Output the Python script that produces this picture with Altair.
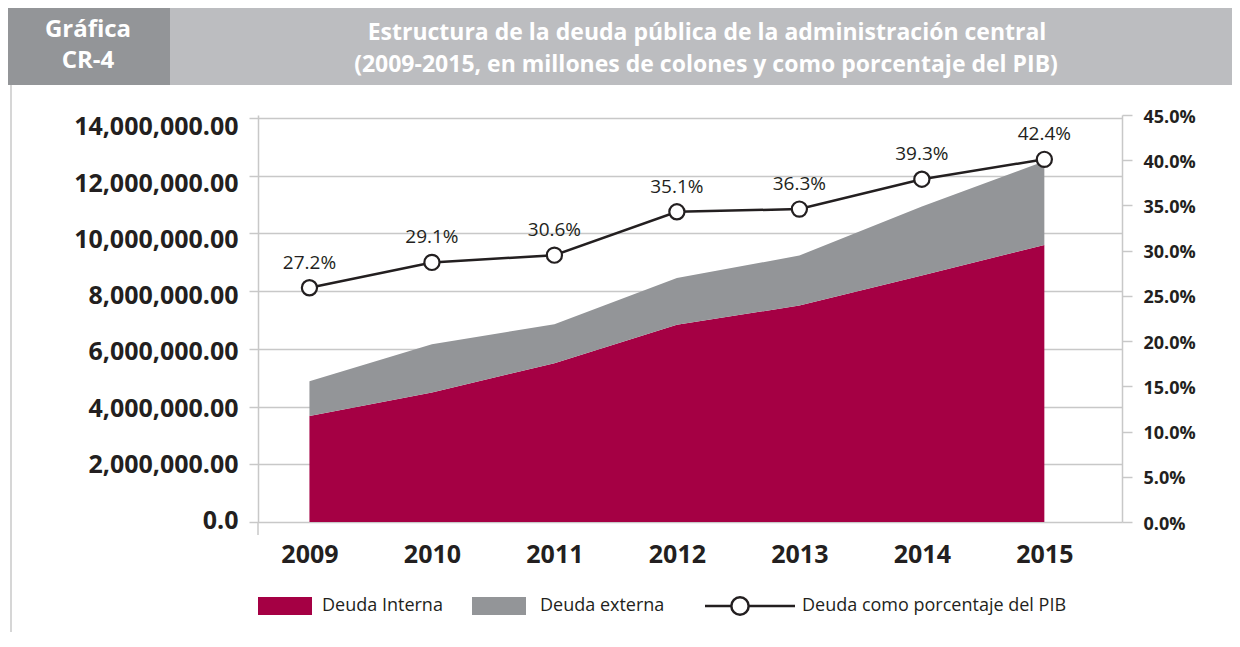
import altair as alt
import pandas as pd

years = [2009, 2010, 2011, 2012, 2013, 2014, 2015]
deuda_interna = [3670000, 4490000, 5500000, 6830000, 7500000, 8540000, 9600000]
deuda_externa = [1210000, 1670000, 1350000, 1620000, 1730000, 2390000, 2900000]
pct_pib = [0.259, 0.287, 0.295, 0.343, 0.346, 0.379, 0.401]
pct_labels = ["27.2%", "29.1%", "30.6%", "35.1%", "36.3%", "39.3%", "42.4%"]
series_names = ["Deuda Interna", "Deuda externa"]
series_colors = ["#A50044", "#939598"]
left_ticks = [0, 2000000, 4000000, 6000000, 8000000, 10000000, 12000000, 14000000]
right_ticks = [0, 0.05, 0.10, 0.15, 0.20, 0.25, 0.30, 0.35, 0.40, 0.45]
title_1 = "Estructura de la deuda pública de la administración central"
title_2 = "(2009-2015, en millones de colones y como porcentaje del PIB)"
badge_1 = "Gráfica"
badge_2 = "CR-4"
line_name = "Deuda como porcentaje del PIB"

FONT = "Open Sans"
GRID = "#C8C8C8"
INK = "#231F20"

area_rows = []
for i, y in enumerate(years):
    area_rows.append({"year": y, "serie": series_names[0], "valor": deuda_interna[i], "orden": 0})
    area_rows.append({"year": y, "serie": series_names[1], "valor": deuda_externa[i], "orden": 1})
area_df = pd.DataFrame(area_rows)
pct_df = pd.DataFrame({"year": years, "pct": pct_pib, "lab": pct_labels})

xenc = alt.X("year:Q",
             scale=alt.Scale(domain=[2008.58, 2015.634], nice=False, zero=False),
             axis=alt.Axis(values=years, format="d", title=None, domain=False, ticks=False,
                           grid=False, labelFont=FONT, labelFontSize=25, labelFontWeight="bold",
                           labelColor=INK, labelPadding=20))

area = alt.Chart(area_df).mark_area(opacity=1).encode(
    x=xenc,
    y=alt.Y("valor:Q", stack="zero",
            scale=alt.Scale(domain=[0, 14100000], nice=False),
            axis=alt.Axis(values=left_ticks, title=None, grid=True, gridColor=GRID, gridWidth=1.5,
                          domainColor=GRID, domainWidth=1.5, tickColor=GRID, tickWidth=1.5,
                          tickSize=9, labelPadding=11, labelFont=FONT, labelFontSize=25,
                          labelFontWeight="bold", labelColor=INK,
                          labelOffset=alt.ExprRef("datum.value * 0.00000075 - 1.5"),
                          labelExpr="datum.value == 0 ? '0.0' : format(datum.value, ',.2f')")),
    color=alt.Color("serie:N", scale=alt.Scale(domain=series_names, range=series_colors), legend=None),
    order=alt.Order("orden:Q"),
)

pscale = alt.Scale(domain=[0, 0.45], nice=False)

line = alt.Chart(pct_df).mark_line(color=INK, strokeWidth=2.5).encode(
    x=xenc,
    y=alt.Y("pct:Q", scale=pscale,
            axis=alt.Axis(orient="right", values=right_ticks, format=".1%", title=None, grid=False,
                          domainColor=GRID, domainWidth=1.5, tickColor=GRID, tickWidth=1.5,
                          tickSize=10, labelPadding=11, labelOffset=2, labelFont=FONT, labelFontSize=18,
                          labelFontWeight="bold", labelColor=INK)),
)
points = alt.Chart(pct_df).mark_point(shape="circle", filled=True, fill="white", stroke=INK,
                                      strokeWidth=2.2, size=230, opacity=1).encode(
    x=xenc, y=alt.Y("pct:Q", scale=pscale, axis=None))
labels = alt.Chart(pct_df).mark_text(dy=-25, font=FONT, fontSize=19, color=INK).encode(
    x=xenc, y=alt.Y("pct:Q", scale=pscale, axis=None), text="lab:N")

one = pd.DataFrame({"k": [0]})

def rect(x1, x2, y1, y2, color):
    return alt.Chart(one).mark_rect(color=color).encode(
        x=alt.value(x1), x2=alt.value(x2), y=alt.value(y1), y2=alt.value(y2))

def txt(s, x, y, size, weight="normal", color=INK, align="center"):
    return alt.Chart(pd.DataFrame({"t": [s]})).mark_text(
        font=FONT, fontSize=size, fontWeight=weight, color=color, align=align, baseline="middle"
    ).encode(x=alt.value(x), y=alt.value(y), text="t:N")

deco = [
    rect(-250, -88, -107, -30, "#939598"),
    rect(-88, 980, -107, -30, "#BCBDC0"),
    txt(badge_1, -170, -85, 24, "bold", "white"),
    txt(badge_2, -170, -54, 24, "bold", "white"),
    txt(title_1, 449, -82, 23, "bold", "white"),
    txt(title_2, 448, -50, 23, "bold", "white"),
    alt.Chart(one).mark_rule(color=GRID, strokeWidth=1.5).encode(
        x=alt.value(-247), y=alt.value(-30), y2=alt.value(520)),
    alt.Chart(one).mark_rule(color=GRID, strokeWidth=1.5).encode(
        x=alt.value(0), y=alt.value(407), y2=alt.value(420)),
    rect(0, 54, 482, 500, series_colors[0]),
    txt(series_names[0], 64, 491, 18, align="left"),
    rect(214, 268, 482, 500, series_colors[1]),
    txt(series_names[1], 282, 491, 18, align="left"),
    alt.Chart(one).mark_rule(color=INK, strokeWidth=2.5).encode(
        x=alt.value(447), x2=alt.value(537), y=alt.value(491)),
    alt.Chart(one).mark_point(shape="circle", filled=True, fill="white", stroke=INK,
                              strokeWidth=2.5, size=300, opacity=1).encode(
        x=alt.value(482), y=alt.value(491)),
    txt(line_name, 544, 491, 18, align="left"),
]

chart = alt.layer(area, line, points, labels, *deco).resolve_scale(y="independent").properties(
    width=864, height=407,
    autosize=alt.AutoSizeParams(type="none"),
    padding={"left": 250, "top": 107, "right": 110, "bottom": 110},
    background="white",
).configure_view(stroke=None)

chart.save("out.html", embed_options={"renderer": "svg", "actions": False})
